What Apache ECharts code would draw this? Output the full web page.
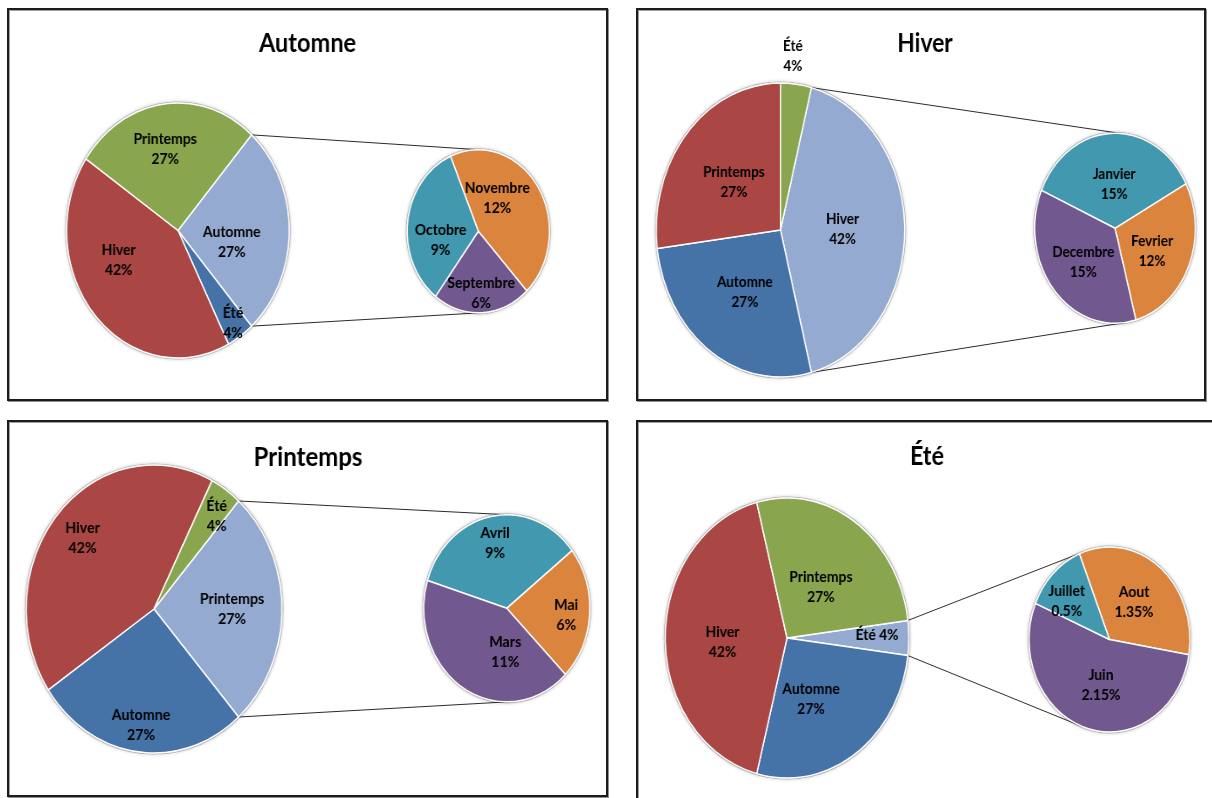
<!DOCTYPE html>
<html>
<head>
<meta charset="utf-8">
<script src="https://cdn.jsdelivr.net/npm/echarts@6/dist/echarts.min.js"></script>
<style>
  html, body { margin: 0; padding: 0; background: #fff; width: 1212px; height: 798px; overflow: hidden; }
  .frame { position: absolute; box-sizing: border-box; border: 2px solid #1c1c1c;
           box-shadow: inset 1px 1px 0 #a0a0a0, 1px 1px 0 #909090; }
  .plot { position: absolute; transform-origin: 0 0; }
</style>
</head>
<body>
<div class="frame" id="f0"></div>
<div class="frame" id="f1"></div>
<div class="frame" id="f2"></div>
<div class="frame" id="f3"></div>
<div class="plot" id="c0"></div>
<div class="plot" id="c1"></div>
<div class="plot" id="c2"></div>
<div class="plot" id="c3"></div>
<script>
// ---- Répartition annuelle par saison (%) et détail mensuel de la saison mise en avant ----
const automneSeasons = ['Automne', 'Été', 'Hiver', 'Printemps'];
const automneSeasonValues = [27, 4, 42, 27];
const automneMonths = ['Novembre', 'Septembre', 'Octobre'];
const automneMonthValues = [12, 6, 9];

const hiverSeasons = ['Hiver', 'Automne', 'Printemps', 'Été'];
const hiverSeasonValues = [42, 27, 27, 4];
const hiverMonths = ['Janvier', 'Fevrier', 'Decembre'];
const hiverMonthValues = [15, 12, 15];

const printempsSeasons = ['Printemps', 'Automne', 'Hiver', 'Été'];
const printempsSeasonValues = [27, 27, 42, 4];
const printempsMonths = ['Avril', 'Mai', 'Mars'];
const printempsMonthValues = [9, 6, 11];

const eteSeasons = ['Été', 'Automne', 'Hiver', 'Printemps'];
const eteSeasonValues = [4, 27, 42, 27];
const eteMonths = ['Aout', 'Juin', 'Juillet'];
const eteMonthValues = [1.35, 2.15, 0.5];

// ---- Palette ----
const LIGHT_BLUE = '#94AAD0', DARK_BLUE = '#4572A7', RED = '#AA4643', GREEN = '#89A54E';
const TEAL = '#4198AF', ORANGE = '#DB843D', PURPLE = '#71588F';
const FONT = 'Lato, "Open Sans", sans-serif';

// ---- Mise en page de chaque panneau (coordonnées avant compression horizontale k) ----
const panels = [
  { title: 'Automne', names: automneSeasons, values: automneSeasonValues,
    subNames: automneMonths, subValues: automneMonthValues,
    box: [8, 8, 600, 392], frame: [7, 8, 601, 393], k: 0.873,
    main: { cx: 194.7, cy: 222.5, r: 127.5 }, sub: { cx: 538.7, cy: 223.3, r: 81.5, start: 337 },
    titleAt: [343.1, 35], subColors: [ORANGE, PURPLE, TEAL],
    mainTune: [[0.49, 10], [0.88, 0], [0.58, 18], [0.65, -3]],
    subTune: [[0.49, -24], [0.76, 0], [0.54, -18]], inline: [] },
  { title: 'Hiver', names: hiverSeasons, values: hiverSeasonValues,
    subNames: hiverMonths, subValues: hiverMonthValues,
    box: [637, 8, 568, 392], frame: [636, 8, 570, 393], k: 0.845,
    main: { cx: 169.8, cy: 222, r: 147 }, sub: { cx: 565.7, cy: 220.3, r: 95, start: 293.5 },
    titleAt: [340.8, 35], subColors: [TEAL, ORANGE, PURPLE],
    mainTune: [[0.5, -1], [0.51, 0], [0.5, 0], [1.19, -2.4]],
    subTune: [[0.47, 1], [0.52, 4], [0.53, -1]], inline: [] },
  { title: 'Printemps', names: printempsSeasons, values: printempsSeasonValues,
    subNames: printempsMonths, subValues: printempsMonthValues,
    box: [8, 421, 600, 377], frame: [7, 420, 601, 377], k: 0.888,
    main: { cx: 164.4, cy: 188, r: 144 }, sub: { cx: 561.6, cy: 187.3, r: 93.5, start: 287.3 },
    titleAt: [337.8, 36.5], subColors: [TEAL, ORANGE, PURPLE],
    mainTune: [[0.61, 0], [0.81, 0], [0.745, 0], [0.81, 3]],
    subTune: [[0.71, -1], [0.72, 2], [0.47, -29]], inline: [] },
  { title: 'Été', names: eteSeasons, values: eteSeasonValues,
    subNames: eteMonths, subValues: eteMonthValues,
    box: [637, 421, 580, 377], frame: [636, 420, 590, 390], k: 0.87,
    main: { cx: 172.4, cy: 217, r: 140 }, sub: { cx: 543.1, cy: 218.5, r: 92.5, start: 338 },
    titleAt: [333.3, 35], subColors: [ORANGE, PURPLE, TEAL],
    mainTune: [[0.74, -2], [0.48, 10], [0.53, -3], [0.46, 3]],
    subTune: [[0.51, -2], [0.5, -4], [0.68, -7]], inline: [0] }
];
const mainColors = [LIGHT_BLUE, DARK_BLUE, RED, GREEN];

// angles in degrees, clockwise from 12 o'clock
function sliceAngles(values, start) {
  const total = values.reduce((a, b) => a + b, 0);
  let acc = start;
  return values.map(v => { const a0 = acc; acc += v / total * 360; return [a0, acc]; });
}
function polar(cx, cy, r, deg) {
  const t = deg * Math.PI / 180;
  return [cx + r * Math.sin(t), cy - r * Math.cos(t)];
}
// tangent point on circle c seen from point p (sign +1: upper side, -1: lower side)
function tangent(p, c, sign) {
  const dx = p[0] - c.cx, dy = p[1] - c.cy;
  const d = Math.hypot(dx, dy);
  const dir = Math.atan2(dx, -dy) * 180 / Math.PI;
  const a = Math.acos(c.r / d) * 180 / Math.PI;
  return polar(c.cx, c.cy, c.r, dir + sign * a);
}

const labelStyle = {
  show: true, position: 'inside', color: '#000', fontFamily: FONT,
  fontWeight: 'bold', fontSize: 16, lineHeight: 20
};

function pieSeries(geom, names, values, colors, startTheta, tune, inline) {
  const angles = sliceAngles(values, startTheta);
  return {
    type: 'pie',
    center: [geom.cx, geom.cy],
    radius: [0, geom.r],
    startAngle: 90 - startTheta,
    clockwise: true,
    avoidLabelOverlap: false,
    silent: true,
    animation: false,
    itemStyle: { borderColor: '#fff', borderWidth: 1.5 },
    label: Object.assign({}, labelStyle, {
      formatter: p => p.name + (inline.indexOf(p.dataIndex) >= 0 ? ' ' : '\n') + p.value + '%'
    }),
    labelLine: { show: false },
    labelLayout: p => {
      const i = p.dataIndex;
      const mid = (angles[i][0] + angles[i][1]) / 2 + tune[i][1];
      const pt = polar(geom.cx, geom.cy, tune[i][0] * geom.r, mid);
      return { x: pt[0], y: pt[1], align: 'center', verticalAlign: 'middle' };
    },
    emphasis: { disabled: true },
    data: names.map((n, i) => ({ name: n, value: values[i], itemStyle: { color: colors[i] } })),
    z: 3
  };
}

panels.forEach((pn, idx) => {
  const fr = document.getElementById('f' + idx);
  Object.assign(fr.style, { left: pn.frame[0] + 'px', top: pn.frame[1] + 'px',
                            width: pn.frame[2] + 'px', height: pn.frame[3] + 'px' });
  const el = document.getElementById('c' + idx);
  const W = Math.round(pn.box[2] / pn.k), H = pn.box[3];
  Object.assign(el.style, { left: pn.box[0] + 'px', top: pn.box[1] + 'px',
                            width: W + 'px', height: H + 'px', transform: 'scaleX(' + pn.k + ')' });

  const total = pn.values.reduce((a, b) => a + b, 0);
  const mainStart = 90 - pn.values[0] / total * 180;   // mise en avant centrée à 3 h
  const mainAngles = sliceAngles(pn.values, mainStart);

  // connecteurs entre la part détaillée et le second camembert
  const pTop = polar(pn.main.cx, pn.main.cy, pn.main.r, mainAngles[0][0]);
  const pBot = polar(pn.main.cx, pn.main.cy, pn.main.r, mainAngles[0][1]);
  const tTop = tangent(pTop, pn.sub, 1);
  const tBot = tangent(pBot, pn.sub, -1);

  const rim = (g) => ({ type: 'circle', silent: true, z: 1,
    shape: { cx: g.cx, cy: g.cy, r: g.r + 0.8 },
    style: { fill: '#fff', stroke: 'rgba(0,0,0,0.22)', lineWidth: 1.6,
             shadowBlur: 4, shadowColor: 'rgba(0,0,0,0.25)' } });

  const chart = echarts.init(el, null, { renderer: 'canvas', width: W, height: H });
  chart.setOption({
    animation: false,
    backgroundColor: 'transparent',
    graphic: [
      { type: 'text', x: pn.titleAt[0], y: pn.titleAt[1], silent: true,
        style: { text: pn.title, fill: '#000', fontFamily: FONT, fontWeight: 'bold',
                 fontSize: 27, align: 'center', verticalAlign: 'middle' } },
      rim(pn.main), rim(pn.sub),
      { type: 'line', silent: true, z: 2,
        shape: { x1: pTop[0], y1: pTop[1], x2: tTop[0], y2: tTop[1] },
        style: { stroke: '#2a2a2a', lineWidth: 1 } },
      { type: 'line', silent: true, z: 2,
        shape: { x1: pBot[0], y1: pBot[1], x2: tBot[0], y2: tBot[1] },
        style: { stroke: '#2a2a2a', lineWidth: 1 } }
    ],
    series: [
      pieSeries(pn.main, pn.names, pn.values, mainColors, mainStart, pn.mainTune, pn.inline),
      pieSeries(pn.sub, pn.subNames, pn.subValues, pn.subColors, pn.sub.start, pn.subTune, [])
    ]
  });
});
</script>
</body>
</html>
